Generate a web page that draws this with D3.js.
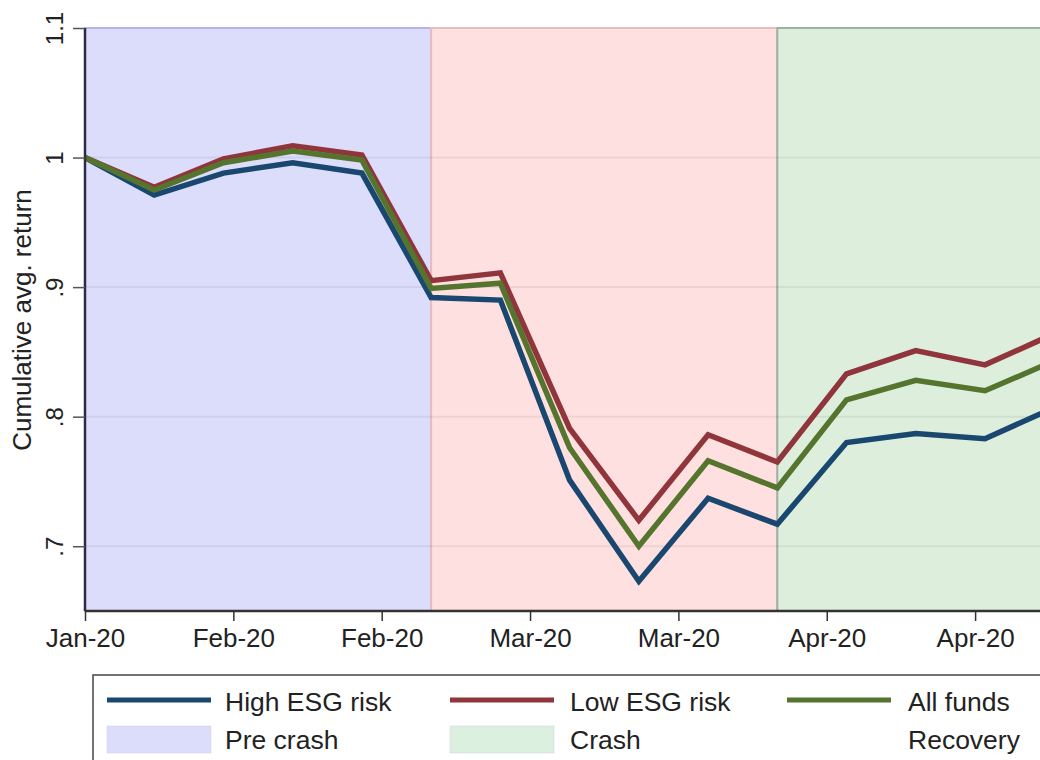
<!DOCTYPE html>
<html>
<head>
<meta charset="utf-8">
<script src="https://cdn.jsdelivr.net/npm/d3@7"></script>
<style>
  html, body { margin: 0; padding: 0; background: #fff; }
  svg { display: block; font-family: "Liberation Sans", Arial, Helvetica, sans-serif; }
</style>
</head>
<body>
<svg id="chart" width="1040" height="760"></svg>
<script>
// ---- data ----
const weekDays = [0, 7, 14, 21, 28, 35, 42, 49, 56, 63, 70, 77, 84, 91, 98];
const highESG = [1.000, 0.971, 0.988, 0.996, 0.988, 0.892, 0.890, 0.751, 0.673, 0.737, 0.717, 0.780, 0.787, 0.783, 0.807];
const lowESG  = [1.000, 0.977, 0.999, 1.009, 1.002, 0.905, 0.911, 0.791, 0.720, 0.786, 0.765, 0.833, 0.851, 0.840, 0.864];
const allFunds= [1.000, 0.975, 0.996, 1.005, 0.998, 0.899, 0.903, 0.776, 0.700, 0.766, 0.745, 0.813, 0.828, 0.820, 0.843];
const seriesNames = ["High ESG risk", "Low ESG risk", "All funds"];
const phaseNames = ["Pre crash", "Crash", "Recovery"];
const phaseStart = [0, 35, 70];
const phaseEnd = [35, 70, 110];
const xTickDays = [0, 15, 30, 45, 60, 75, 90];
const xTickLabels = ["Jan-20", "Feb-20", "Feb-20", "Mar-20", "Mar-20", "Apr-20", "Apr-20"];
const yTicks = [0.7, 0.8, 0.9, 1.0, 1.1];
const yTickLabels = [".7", ".8", ".9", "1", "1.1"];

// ---- styles ----
const lineColors = ["#1a476f", "#90353b", "#55752f"];
const phaseFill = ["#dcdcfb", "#fde0df", "#ddefdc"];
const phaseStroke = ["#b4b4ea", "#e8bcc0", "#9fb0a6"];
const legendSwatch = ["#dcdcfb", "#dcf0df", null];

const svg = d3.select("#chart");
const plotLeft = 85, plotTop = 28, plotBottom = 611;
const x = d3.scaleLinear().domain([0, 100]).range([plotLeft, plotLeft + 9.89 * 100]);
const y = d3.scaleLinear().domain([0.65, 1.1]).range([plotBottom, plotTop]);

// phase regions
const phases = phaseNames.map((n, i) => ({name: n, s: phaseStart[i], e: phaseEnd[i], i}));
svg.append("g").selectAll("rect").data(phases).join("rect")
  .attr("x", d => x(d.s)).attr("y", y(1.1))
  .attr("width", d => x(d.e) - x(d.s)).attr("height", y(0.65) - y(1.1))
  .attr("fill", d => phaseFill[d.i])
  .attr("stroke", d => phaseStroke[d.i]).attr("stroke-width", 2);

// gridlines
svg.append("g").selectAll("line").data(yTicks.filter(v => v < 1.1)).join("line")
  .attr("x1", plotLeft).attr("x2", 1040)
  .attr("y1", d => y(d)).attr("y2", d => y(d))
  .attr("stroke", "#000").attr("stroke-opacity", 0.06).attr("stroke-width", 2);

// lines
const line = d3.line().x((d, i) => x(weekDays[i])).y(d => y(d));
[highESG, lowESG, allFunds].forEach((s, k) => {
  svg.append("path").datum(s).attr("d", line)
    .attr("fill", "none").attr("stroke", lineColors[k])
    .attr("stroke-width", 5.5).attr("stroke-linejoin", "miter");
});

// axes
const xAxis = d3.axisBottom(x).tickValues(xTickDays)
  .tickFormat((d, i) => xTickLabels[i]).tickSize(10).tickPadding(8);
const gx = svg.append("g").attr("transform", `translate(0,${plotBottom})`).call(xAxis);
gx.select(".domain").attr("d", `M${plotLeft},0H1040`).attr("stroke", "#333").attr("stroke-width", 2.5);
gx.selectAll(".tick line").attr("stroke", "#333").attr("stroke-width", 1.5);
gx.selectAll(".tick text").attr("font-size", 26).attr("fill", "#222")
  .attr("font-family", "Liberation Sans, Arial, sans-serif");

const yAxis = d3.axisLeft(y).tickValues(yTicks)
  .tickFormat((d, i) => yTickLabels[i]).tickSize(12).tickPadding(6);
const gy = svg.append("g").attr("transform", `translate(${plotLeft},0)`).call(yAxis);
gy.select(".domain").attr("d", `M0,${plotTop}V${plotBottom}`).attr("stroke", "#2b2b48").attr("stroke-width", 2.5);
gy.selectAll(".tick line").attr("stroke", "#555").attr("stroke-width", 1.5);
gy.selectAll(".tick text")
  .attr("font-size", 24).attr("fill", "#222")
  .attr("font-family", "Liberation Sans, Arial, sans-serif")
  .attr("text-anchor", "middle").attr("dy", 0)
  .attr("transform", "translate(-22,0) rotate(-90)")
  .attr("x", 0).attr("y", 0);

// y title
svg.append("text")
  .attr("transform", `translate(31,320) rotate(-90)`)
  .attr("text-anchor", "middle").attr("font-size", 26).attr("fill", "#222")
  .text("Cumulative avg. return");

// legend
const lg = svg.append("g");
lg.append("rect").attr("x", 93).attr("y", 675).attr("width", 1000).attr("height", 120)
  .attr("fill", "#fff").attr("stroke", "#444").attr("stroke-width", 1.5);
const colSwX = [107, 450, 787];
const colTxX = [225, 570, 908];
seriesNames.forEach((n, k) => {
  lg.append("line").attr("x1", colSwX[k]).attr("x2", colSwX[k] + 104)
    .attr("y1", 700).attr("y2", 700).attr("stroke", lineColors[k]).attr("stroke-width", 5);
  lg.append("text").attr("x", colTxX[k]).attr("y", 711).attr("font-size", 26.5).attr("fill", "#222").text(n);
});
phaseNames.forEach((n, k) => {
  if (legendSwatch[k]) {
    lg.append("rect").attr("x", colSwX[k]).attr("y", 726).attr("width", 104).attr("height", 27)
      .attr("fill", legendSwatch[k]).attr("stroke", "#cfcfe8").attr("stroke-width", 0.5);
  }
  lg.append("text").attr("x", colTxX[k]).attr("y", 749).attr("font-size", 26.5).attr("fill", "#222").text(n);
});
</script>
</body>
</html>
